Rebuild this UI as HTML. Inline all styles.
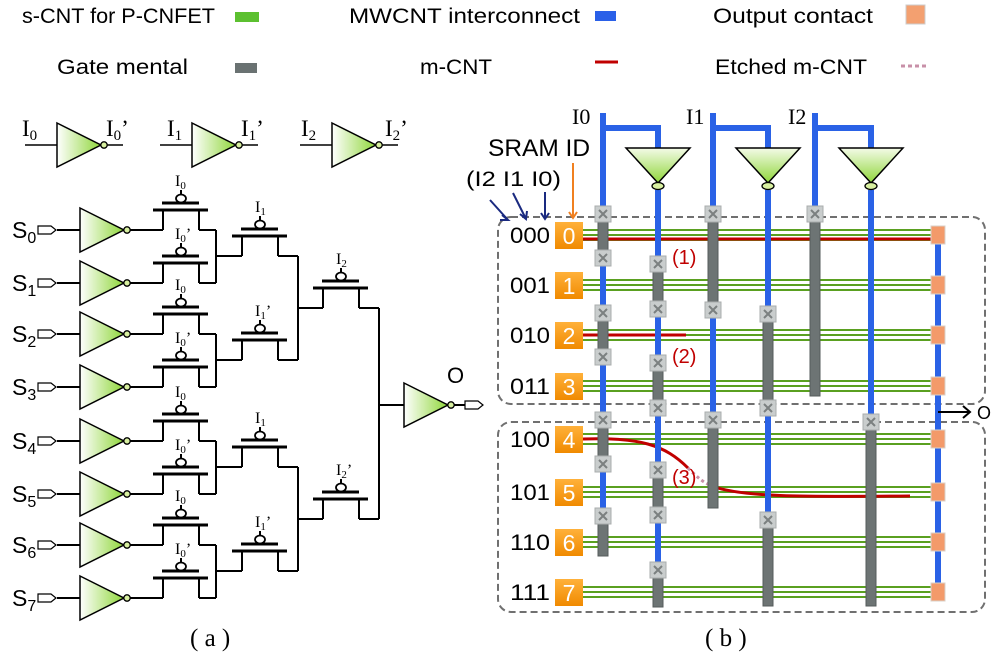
<!DOCTYPE html>
<html><head><meta charset="utf-8"><style>
html,body{margin:0;padding:0;background:#fff;}
svg{display:block;}
.t{font-family:"Liberation Serif",serif;}
.s{font-family:"Liberation Sans","DejaVu Sans",sans-serif;}
</style></head><body>
<svg width="997" height="659" viewBox="0 0 997 659" xmlns="http://www.w3.org/2000/svg">
<defs>
<linearGradient id="gh" x1="0" y1="0" x2="1" y2="0"><stop offset="0" stop-color="#fff"/><stop offset="1" stop-color="#8fd63a"/></linearGradient>
<linearGradient id="gv" x1="0" y1="0" x2="0" y2="1"><stop offset="0" stop-color="#f4fbe8"/><stop offset="1" stop-color="#8fd63a"/></linearGradient>
<linearGradient id="gor" x1="0" y1="0" x2="0" y2="1"><stop offset="0" stop-color="#ffb13a"/><stop offset="1" stop-color="#f08a00"/></linearGradient>
<g id="inv"><polygon points="0,-22 44,0 0,22" fill="url(#gh)" stroke="#000" stroke-width="1.5"/><circle cx="47" cy="0" r="3.2" fill="#d8f0a0" stroke="#000" stroke-width="1.3"/></g>
<g id="port"><polygon points="0,-4 13,-4 18,0 13,4 0,4" fill="#fff" stroke="#000" stroke-width="1.2"/></g>
<g id="tr" stroke="#000" fill="none" stroke-width="2"><line x1="-10" y1="0" x2="45" y2="0" stroke-width="3"/><line x1="-1" y1="-7" x2="36" y2="-7" stroke-width="3"/><ellipse cx="18" cy="-11.5" rx="5" ry="4" stroke-width="1.8" fill="#fff"/><line x1="18" y1="-15.5" x2="18" y2="-20"/><line x1="0" y1="0" x2="0" y2="20"/><line x1="36" y1="0" x2="36" y2="20"/></g>
<g id="dinv"><polygon points="-32,0 32,0 0,35" fill="url(#gv)" stroke="#000" stroke-width="1.5"/><ellipse cx="0" cy="38" rx="6" ry="3.5" fill="#d8f0a0" stroke="#000" stroke-width="1.3"/></g>
<g id="xc"><rect x="-8" y="-8" width="16" height="16" fill="#c9cdcd" stroke="#a9adad"/><path d="M-4,-4 L4,4 M4,-4 L-4,4" stroke="#7b8080" stroke-width="2"/></g>
<g id="oc"><rect x="-7" y="-9" width="14" height="18" fill="#f39a6a" stroke="#d8d0c8"/></g>
<g id="gl"><line x1="583" x2="932" y1="-5" y2="-5" stroke="#5aa020" stroke-width="2"/><line x1="583" x2="932" y1="0" y2="0" stroke="#5aa020" stroke-width="2"/><line x1="583" x2="932" y1="5" y2="5" stroke="#5aa020" stroke-width="2"/></g>
</defs>

<!-- Legend -->
<g class="s" font-size="21" fill="#000" lengthAdjust="spacingAndGlyphs">
<text x="22" y="23" textLength="193" lengthAdjust="spacingAndGlyphs">s-CNT for P-CNFET</text>
<text x="349" y="23" textLength="231" lengthAdjust="spacingAndGlyphs">MWCNT interconnect</text>
<text x="713" y="23" textLength="160" lengthAdjust="spacingAndGlyphs">Output contact</text>
<text x="57" y="74" textLength="131" lengthAdjust="spacingAndGlyphs">Gate mental</text>
<text x="420" y="74" textLength="72" lengthAdjust="spacingAndGlyphs">m-CNT</text>
<text x="715" y="74" textLength="152" lengthAdjust="spacingAndGlyphs">Etched m-CNT</text>
</g>
<rect x="235" y="12" width="24" height="10" fill="#5cc030"/>
<rect x="595" y="11" width="21" height="10" fill="#2a60e8"/>
<rect x="906" y="5" width="19" height="19" fill="#f3a070" stroke="#ccc"/>
<rect x="235" y="63" width="22" height="10" fill="#6a7272"/>
<line x1="595" y1="62" x2="618" y2="62" stroke="#c00000" stroke-width="3"/>
<line x1="901" y1="66" x2="929" y2="66" stroke="#c890a8" stroke-width="3" stroke-dasharray="4,3"/>

<!-- top inverters (a) -->
<g stroke="#000" stroke-width="1.5">
<line x1="25" y1="145" x2="57" y2="145"/><line x1="107" y1="145" x2="123" y2="145"/>
<line x1="160" y1="145" x2="192" y2="145"/><line x1="242" y1="145" x2="258" y2="145"/>
<line x1="300" y1="145" x2="332" y2="145"/><line x1="382" y1="145" x2="398" y2="145"/>
</g>
<use href="#inv" x="57" y="145"/><use href="#inv" x="192" y="145"/><use href="#inv" x="332" y="145"/>
<g class="t" font-size="23">
<text x="22" y="136">I<tspan font-size="15" dy="4">0</tspan></text>
<text x="106" y="136">I<tspan font-size="15" dy="4">0</tspan><tspan dy="-4">’</tspan></text>
<text x="167" y="136">I<tspan font-size="15" dy="4">1</tspan></text>
<text x="241" y="136">I<tspan font-size="15" dy="4">1</tspan><tspan dy="-4">’</tspan></text>
<text x="301" y="136">I<tspan font-size="15" dy="4">2</tspan></text>
<text x="385" y="136">I<tspan font-size="15" dy="4">2</tspan><tspan dy="-4">’</tspan></text>
</g>

<!-- left circuit rows -->
<g class="s" font-size="23">
<text x="12" y="238">S<tspan font-size="16" dy="5">0</tspan></text>
<text x="12" y="291">S<tspan font-size="16" dy="5">1</tspan></text>
<text x="12" y="342">S<tspan font-size="16" dy="5">2</tspan></text>
<text x="12" y="395">S<tspan font-size="16" dy="5">3</tspan></text>
<text x="12" y="449">S<tspan font-size="16" dy="5">4</tspan></text>
<text x="12" y="502">S<tspan font-size="16" dy="5">5</tspan></text>
<text x="12" y="553">S<tspan font-size="16" dy="5">6</tspan></text>
<text x="12" y="606">S<tspan font-size="16" dy="5">7</tspan></text>
</g>
<g stroke="#000" stroke-width="2" fill="none">
<path d="M57,230H80 M130,230H163 M199,230H216 M57,283H80 M130,283H163 M199,283H216 M216,230V283 M216,256H242 M278,256H298"/>
<path d="M57,334H80 M130,334H163 M199,334H216 M57,387H80 M130,387H163 M199,387H216 M216,334V387 M216,360H242 M278,360H298"/>
<path d="M57,441H80 M130,441H163 M199,441H216 M57,494H80 M130,494H163 M199,494H216 M216,441V494 M216,467H242 M278,467H298"/>
<path d="M57,545H80 M130,545H163 M199,545H216 M57,598H80 M130,598H163 M199,598H216 M216,545V598 M216,571H242 M278,571H298"/>
<path d="M298,256V360 M298,308H323 M359,308H379 M298,467V571 M298,519H323 M359,519H379 M379,308V519 M379,405H404 M454,405H465"/>
</g>
<use href="#port" x="38" y="230"/><use href="#port" x="38" y="283"/><use href="#port" x="38" y="334"/><use href="#port" x="38" y="387"/>
<use href="#port" x="38" y="441"/><use href="#port" x="38" y="494"/><use href="#port" x="38" y="545"/><use href="#port" x="38" y="598"/>
<use href="#inv" x="80" y="230"/><use href="#inv" x="80" y="283"/><use href="#inv" x="80" y="334"/><use href="#inv" x="80" y="387"/>
<use href="#inv" x="80" y="441"/><use href="#inv" x="80" y="494"/><use href="#inv" x="80" y="545"/><use href="#inv" x="80" y="598"/>
<use href="#tr" x="163" y="210"/><use href="#tr" x="163" y="263"/><use href="#tr" x="163" y="314"/><use href="#tr" x="163" y="367"/>
<use href="#tr" x="163" y="421"/><use href="#tr" x="163" y="474"/><use href="#tr" x="163" y="525"/><use href="#tr" x="163" y="578"/>
<use href="#tr" x="242" y="236"/><use href="#tr" x="242" y="340"/><use href="#tr" x="242" y="447"/><use href="#tr" x="242" y="551"/>
<use href="#tr" x="323" y="288"/><use href="#tr" x="323" y="499"/>
<use href="#inv" x="404" y="405"/><use href="#port" x="465" y="405"/>
<text x="447" y="383" class="s" font-size="22">O</text>
<g class="t" font-size="16">
<text x="175" y="186">I<tspan font-size="11" dy="3">0</tspan></text>
<text x="175" y="239">I<tspan font-size="11" dy="3">0</tspan><tspan dy="-3">’</tspan></text>
<text x="175" y="290">I<tspan font-size="11" dy="3">0</tspan></text>
<text x="175" y="343">I<tspan font-size="11" dy="3">0</tspan><tspan dy="-3">’</tspan></text>
<text x="175" y="397">I<tspan font-size="11" dy="3">0</tspan></text>
<text x="175" y="450">I<tspan font-size="11" dy="3">0</tspan><tspan dy="-3">’</tspan></text>
<text x="175" y="501">I<tspan font-size="11" dy="3">0</tspan></text>
<text x="175" y="554">I<tspan font-size="11" dy="3">0</tspan><tspan dy="-3">’</tspan></text>
<text x="255" y="212">I<tspan font-size="11" dy="3">1</tspan></text>
<text x="255" y="316">I<tspan font-size="11" dy="3">1</tspan><tspan dy="-3">’</tspan></text>
<text x="255" y="423">I<tspan font-size="11" dy="3">1</tspan></text>
<text x="255" y="527">I<tspan font-size="11" dy="3">1</tspan><tspan dy="-3">’</tspan></text>
<text x="336" y="264">I<tspan font-size="11" dy="3">2</tspan></text>
<text x="336" y="475">I<tspan font-size="11" dy="3">2</tspan><tspan dy="-3">’</tspan></text>
</g>
<text x="190" y="646" class="t" font-size="25">( a )</text>
<text x="705" y="646" class="t" font-size="25">( b )</text>

<!-- right panel -->
<rect x="498" y="217" width="487" height="187" rx="13" fill="none" stroke="#707070" stroke-width="2" stroke-dasharray="7,4"/>
<rect x="498" y="422" width="487" height="190" rx="13" fill="none" stroke="#707070" stroke-width="2" stroke-dasharray="7,4"/>
<use href="#gl" y="235"/><use href="#gl" y="285"/><use href="#gl" y="335"/><use href="#gl" y="386"/>
<use href="#gl" y="439"/><use href="#gl" y="492"/><use href="#gl" y="542"/><use href="#gl" y="592"/>
<g fill="none" stroke="#c00000" stroke-width="3">
<line x1="583" y1="239" x2="932" y2="239"/>
<line x1="583" y1="335" x2="686" y2="335"/>
<path d="M583,439 C640,437 665,445 688,468"/>
<path d="M712,486 C740,497 800,497 910,496"/>
</g>
<path d="M688,468 C698,478 704,483 712,486" fill="none" stroke="#c890a8" stroke-width="3" stroke-dasharray="3,3"/>
<g class="s" font-size="20" fill="#c00000">
<text x="672" y="264">(1)</text><text x="672" y="363">(2)</text><text x="672" y="484">(3)</text>
</g>
<!-- blue -->
<g stroke="#2a62e6" stroke-width="6" fill="none">
<path d="M603,113V556 M603,128H658V148 M658,190V607"/>
<path d="M713,113V508 M713,128H768V148 M768,190V606"/>
<path d="M815,113V396 M815,128H871V148 M871,190V606"/>
<path d="M938,230V600"/>
</g>
<use href="#dinv" x="658" y="148"/><use href="#dinv" x="768" y="148"/><use href="#dinv" x="871" y="148"/>
<!-- gates -->
<g fill="#6d7474" stroke="#555b5b" stroke-width="1">
<rect x="598" y="214" width="10" height="44"/><rect x="598" y="313" width="10" height="44"/><rect x="598" y="420" width="10" height="44"/><rect x="598" y="516" width="10" height="40"/>
<rect x="653" y="264" width="10" height="45"/><rect x="653" y="363" width="10" height="45"/><rect x="653" y="470" width="10" height="45"/><rect x="653" y="570" width="10" height="37"/>
<rect x="708" y="214" width="10" height="96"/><rect x="708" y="420" width="10" height="88"/>
<rect x="763" y="314" width="10" height="94"/><rect x="763" y="520" width="10" height="86"/>
<rect x="810" y="214" width="10" height="182"/>
<rect x="866" y="422" width="10" height="184"/>
</g>
<use href="#xc" x="603" y="214"/><use href="#xc" x="603" y="258"/><use href="#xc" x="603" y="313"/><use href="#xc" x="603" y="357"/><use href="#xc" x="603" y="420"/><use href="#xc" x="603" y="464"/><use href="#xc" x="603" y="516"/>
<use href="#xc" x="658" y="264"/><use href="#xc" x="658" y="309"/><use href="#xc" x="658" y="363"/><use href="#xc" x="658" y="408"/><use href="#xc" x="658" y="470"/><use href="#xc" x="658" y="515"/><use href="#xc" x="658" y="570"/>
<use href="#xc" x="713" y="214"/><use href="#xc" x="713" y="310"/><use href="#xc" x="713" y="420"/>
<use href="#xc" x="768" y="314"/><use href="#xc" x="768" y="408"/><use href="#xc" x="768" y="520"/>
<use href="#xc" x="815" y="214"/><use href="#xc" x="871" y="422"/>
<use href="#oc" x="938" y="235"/><use href="#oc" x="938" y="285"/><use href="#oc" x="938" y="335"/><use href="#oc" x="938" y="386"/>
<use href="#oc" x="938" y="439"/><use href="#oc" x="938" y="492"/><use href="#oc" x="938" y="542"/><use href="#oc" x="938" y="592"/>
<!-- SRAM boxes -->
<g class="s" font-size="22">
<text x="510" y="243" textLength="40" lengthAdjust="spacingAndGlyphs">000</text><text x="510" y="293" textLength="40" lengthAdjust="spacingAndGlyphs">001</text><text x="510" y="343" textLength="40" lengthAdjust="spacingAndGlyphs">010</text><text x="510" y="394" textLength="40" lengthAdjust="spacingAndGlyphs">011</text>
<text x="510" y="447" textLength="40" lengthAdjust="spacingAndGlyphs">100</text><text x="510" y="500" textLength="40" lengthAdjust="spacingAndGlyphs">101</text><text x="510" y="550" textLength="40" lengthAdjust="spacingAndGlyphs">110</text><text x="510" y="600" textLength="40" lengthAdjust="spacingAndGlyphs">111</text>
</g>
<g fill="url(#gor)">
<rect x="555" y="222" width="28" height="27"/><rect x="555" y="272" width="28" height="27"/><rect x="555" y="322" width="28" height="27"/><rect x="555" y="373" width="28" height="27"/>
<rect x="555" y="426" width="28" height="27"/><rect x="555" y="479" width="28" height="27"/><rect x="555" y="529" width="28" height="27"/><rect x="555" y="579" width="28" height="27"/>
</g>
<g class="s" font-size="23" fill="#fff" text-anchor="middle">
<text x="569" y="244">0</text><text x="569" y="294">1</text><text x="569" y="344">2</text><text x="569" y="395">3</text>
<text x="569" y="448">4</text><text x="569" y="501">5</text><text x="569" y="551">6</text><text x="569" y="601">7</text>
</g>
<text x="488" y="156" class="s" font-size="24" textLength="102" lengthAdjust="spacingAndGlyphs">SRAM ID</text>
<text x="466" y="186" class="s" font-size="21" textLength="95" lengthAdjust="spacingAndGlyphs">(I2 I1 I0)</text>
<g class="t" font-size="22"><text x="572" y="124">I0</text><text x="686" y="124">I1</text><text x="788" y="124">I2</text></g>
<g stroke="#1a2a80" stroke-width="2" fill="none">
<path d="M490,200L508,220 M502,215L508,220L500,220"/>
<path d="M513,193L526,219 M520,214L526,219L527,211"/>
<path d="M545,192V219 M541,213L545,219L549,213"/>
</g>
<path d="M573,163V218 M569,212L573,218L577,212" stroke="#f08020" stroke-width="2" fill="none"/>
<path d="M938,412H970 M963,406L970,412L963,418" stroke="#000" stroke-width="2" fill="none"/>
<text x="977" y="419" class="s" font-size="18">O</text>
</svg>
</body></html>
